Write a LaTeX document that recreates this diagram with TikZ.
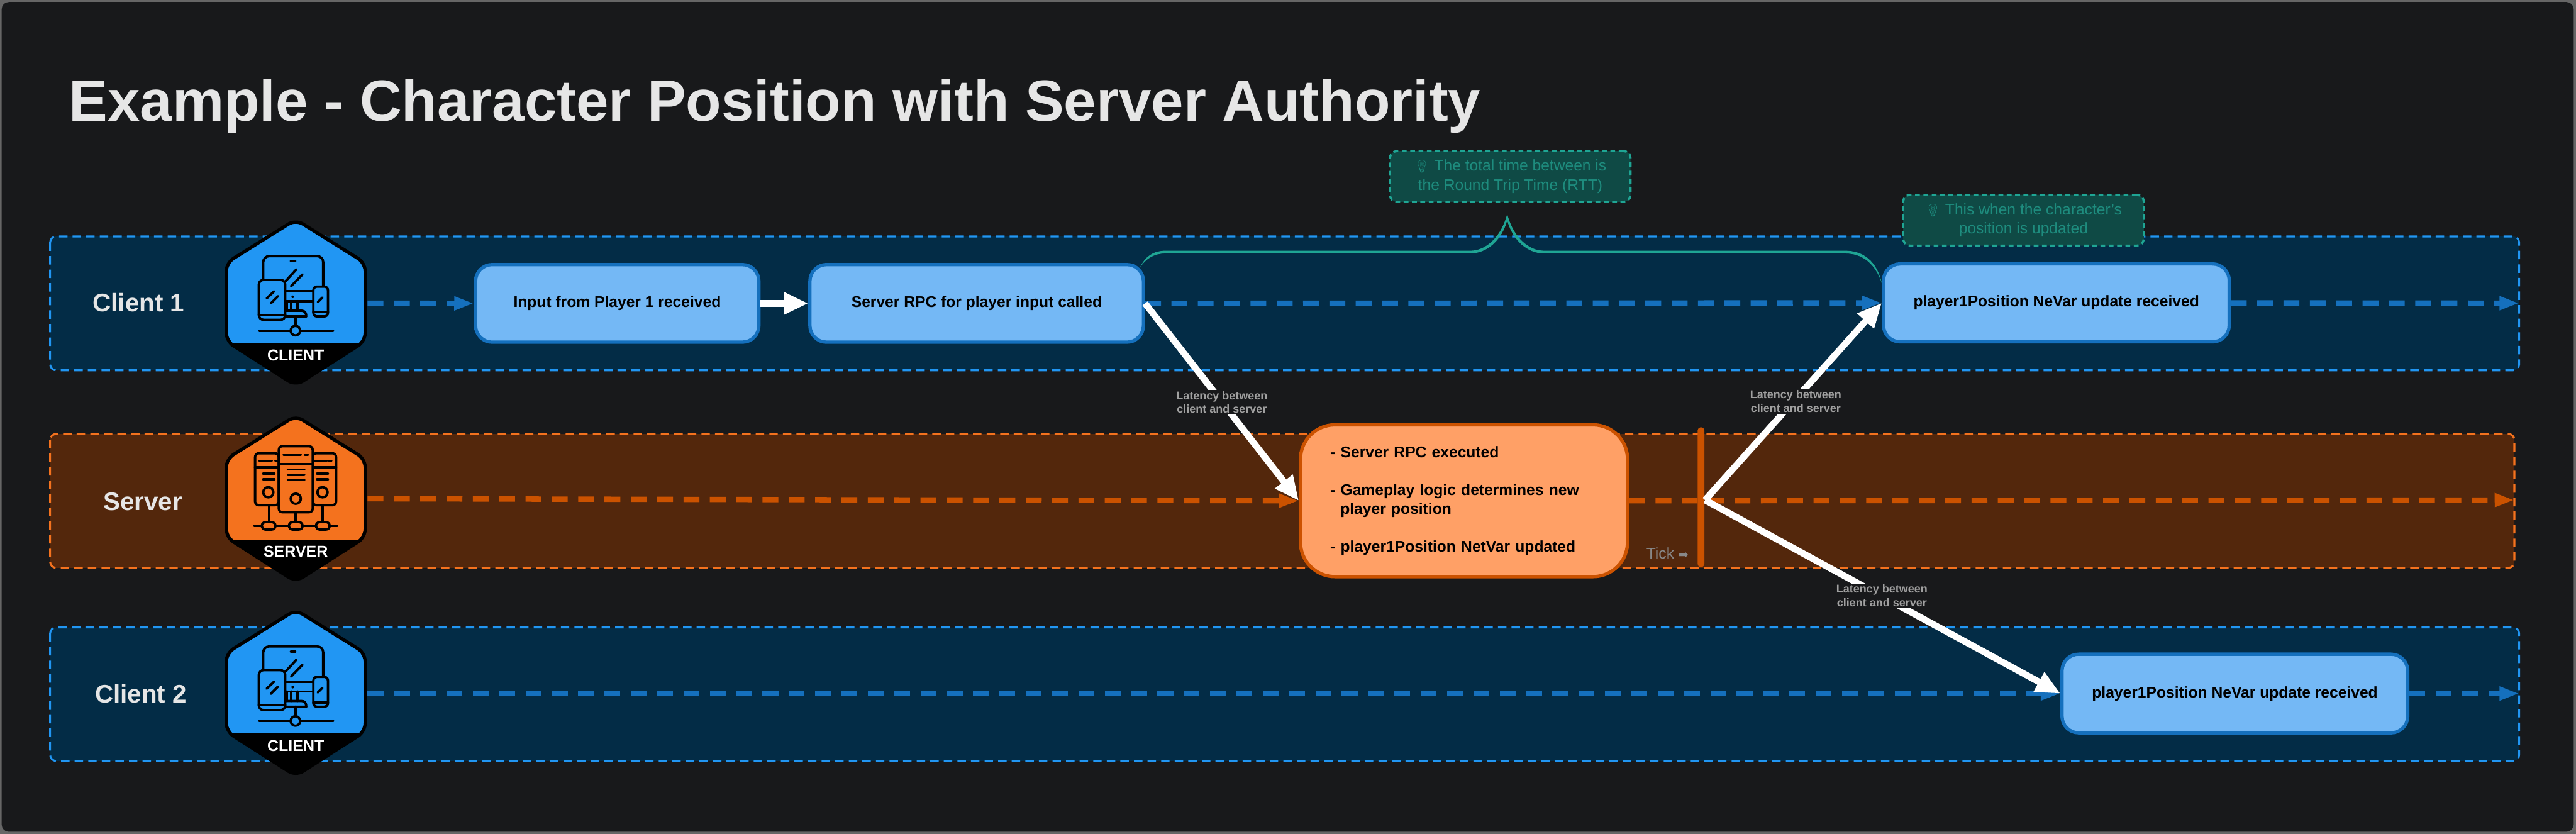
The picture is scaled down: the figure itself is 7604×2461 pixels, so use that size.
\documentclass[tikz,border=0pt]{standalone}
\usepackage{fontspec}
\setmainfont{Liberation Sans}
\newfontfamily\emojifont{Noto Emoji}
\newfontfamily\symfont{DejaVu Sans}
\usetikzlibrary{arrows.meta}
\definecolor{bgc}{HTML}{18191B}
\definecolor{edgec}{HTML}{666666}
\definecolor{cband}{HTML}{032C46}
\definecolor{cdash}{HTML}{2196F3}
\definecolor{cline}{HTML}{1570BD}
\definecolor{cbox}{HTML}{74B8F5}
\definecolor{sband}{HTML}{53270C}
\definecolor{sdash}{HTML}{F4721E}
\definecolor{sline}{HTML}{CB5200}
\definecolor{sbox}{HTML}{FFA066}
\definecolor{notefill}{HTML}{0F4A45}
\definecolor{noteedge}{HTML}{1FA594}
\definecolor{notetext}{HTML}{1E8C7E}
\definecolor{greytext}{HTML}{A0A0A0}
\definecolor{titlec}{HTML}{E6E6E6}
\tikzset{
  bandbox/.style={line width=1.6pt,rounded corners=5pt,dash pattern=on 7.1pt off 4.3pt},
  flow/.style={line width=4.5pt,dash pattern=on 13.3pt off 8.8pt,-{Triangle[length=.58cm,width=.38cm]}},
  msgbox/.style={draw=cline,fill=cbox,line width=2.8pt,rounded corners=14pt,inner sep=0pt,
    font=\fontsize{13}{15.9}\selectfont\bfseries,text=black},
  msg/.style={white,line width=5.5pt,-{Triangle[length=.72cm,width=.62cm]}},
  latency/.style={fill=bgc,text=greytext,align=center,inner xsep=6pt,inner ysep=1pt,
    font=\fontsize{9.5}{11.4}\selectfont\bfseries},
  note/.style={draw=noteedge,fill=notefill,text=notetext,line width=1.8pt,rounded corners=6pt,
    dash pattern=on 4pt off 3pt,align=center,inner sep=0pt,minimum width=7.1cm,minimum height=1.5cm,
    font=\fontsize{13}{15.9}\selectfont},
  lane/.style={text=titlec,font=\fontsize{21.3}{25}\selectfont\bfseries},
  badgetext/.style={text=white,font=\fontsize{13.2}{15}\selectfont\bfseries},
  ic/.style={line width=2pt,black,line cap=round,line join=round},
}
\newcommand{\hexpath}{(0,-4) -- (205,124) -- (205,355) -- (0,486) -- (-205,355) -- (-205,124) -- cycle}
\newcommand{\badge}[4]{% name, top y, colour, label
  \begin{scope}[shift={(873,#2)}]
    \fill[black,rounded corners=7pt] \hexpath;
    \begin{scope}
      \clip (-300,-50) rectangle (300,360);
      \fill[#3,rounded corners=7pt] \hexpath;
    \end{scope}
    \draw[black,line width=2.8pt,rounded corners=7pt] \hexpath;
    \node[badgetext] (#1) at (0,397) {#4};
  \end{scope}}
\newcommand{\clienticon}[2]{% top y, colour
  \begin{scope}[shift={(873,#1)}]
    \draw[ic,rounded corners=5pt] (-96,176) -- (-96,104) -- (81,104) -- (81,196);
    \draw[ic,line width=2.2pt] (-14,119) -- (-2,119);
    \draw[ic] (2,143) -- (-30,178);
    \draw[ic] (20,158) -- (-14,193);
    \draw[ic] (-31,208) -- (52,208);
    \draw[ic] (-31,237) -- (52,237);
    \fill[black] (-9,224) circle [radius=.04cm];
    \draw[ic] (-26,237) -- (-26,265);
    \draw[ic] (-14,237) -- (-14,265);
    \draw[ic] (5,237) -- (5,265);
    \draw[ic] (-31,265) -- (17,265) .. controls (27,265) and (31,272) .. (31,282) -- (-31,282);
    \draw[ic,fill=#2,rounded corners=4pt] (-109,174) rectangle (-31,292);
    \draw[ic] (-109,277) -- (-31,277);
    \draw[ic] (-64,208) -- (-86,229);
    \draw[ic] (-52,222) -- (-74,244);
    \draw[ic,fill=#2,rounded corners=3pt] (52,194) rectangle (95,282);
    \draw[ic] (52,269) -- (95,269);
    \draw[ic] (79,226) -- (65,240);
    \draw[ic] (-1,282) -- (-1,310);
    \draw[ic] (-107,324) -- (-15,324);
    \draw[ic] (13,324) -- (110,324);
    \draw[ic] (-1,324) circle [radius=.14cm];
  \end{scope}}
\newcommand{\sideserver}[2]{% x1 x2
  \draw[ic,rounded corners=3pt] (#1,107) rectangle (#2,260);
  \draw[ic] (#1,149) -- (#2,149);}
\newcommand{\servericon}[2]{%
  \begin{scope}[shift={(873,#1)}]
    \draw[ic] (-79,260) -- (-79,321);
    \draw[ic] (0,281) -- (0,321);
    \draw[ic] (79,260) -- (79,321);
    \draw[ic] (-122,321) -- (122,321);
    \foreach \cx in {-80,0,80}{\draw[ic,fill=#2,rounded corners=3pt] (\cx-20,310) rectangle (\cx+20,332);}
    \sideserver{-120}{-50}
    \sideserver{50}{119}
    \draw[ic] (-107,129) -- (-71,129);
    \draw[ic] (-60,129) -- (-52,129);
    \draw[ic] (53,129) -- (91,129);
    \draw[ic] (97,129) -- (105,129);
    \foreach \ly in {167,184}{\draw[ic] (-96,\ly) -- (-63,\ly); \draw[ic] (63,\ly) -- (95,\ly);}
    \draw[ic] (-81,222) circle [radius=.15cm];
    \draw[ic] (79,222) circle [radius=.15cm];
    \draw[ic,fill=#2,rounded corners=3pt] (-50,86) rectangle (50,281);
    \draw[ic] (-50,138) -- (50,138);
    \draw[ic] (-36,112) -- (15,112);
    \draw[ic] (27,112) -- (36,112);
    \foreach \ly in {155,170,186}{\draw[ic] (-23,\ly) -- (25,\ly);}
    \draw[ic] (0,241) circle [radius=.15cm];
  \end{scope}}
\begin{document}
\begin{tikzpicture}[x=.01cm,y=-.01cm]
\useasboundingbox (0,0) rectangle (7604,2461);
\fill[edgec] (0,0) rectangle (7604,2461);
\fill[bgc,rounded corners=6pt] (5,6) rectangle (7597,2455);

% title
\node[anchor=base west,inner sep=0pt,text=titlec,font=\fontsize{48.8}{58}\selectfont\bfseries] (title) at (203,357)
  {Example - Character Position with Server Authority};

% bands
\draw[bandbox,draw=cdash,fill=cband] (148,698) rectangle (7436,1093);
\draw[bandbox,draw=sdash,fill=sband] (148,1281) rectangle (7422,1676);
\draw[bandbox,draw=cdash,fill=cband] (148,1852) rectangle (7436,2246);

% lane labels
\node[lane] (lane1) at (409,894) {Client 1};
\node[lane] (lane2) at (422,1480) {Server};
\node[lane] (lane3) at (416,2047) {Client 2};

% message boxes
\node[msgbox,minimum width=8.36cm,minimum height=2.29cm] (input) at (1822,895.5) {Input from Player 1 received};
\node[msgbox,minimum width=9.84cm,minimum height=2.29cm] (rpc) at (2883,895.5) {Server RPC for player input called};
\node[msgbox,minimum width=10.2cm,minimum height=2.3cm] (playerA) at (6070,894) {player1Position NeVar update received};
\node[msgbox,minimum width=10.2cm,minimum height=2.32cm] (playerB) at (6597,2047) {player1Position NeVar update received};
\node[msgbox,draw=sline,fill=sbox,rounded corners=29pt,minimum width=9.65cm,minimum height=4.48cm,
      text width=7.89cm,align=left,inner xsep=.88cm] (srv) at (4321.5,1478)
  {- Server RPC executed\\[15.9pt]
   - Gameplay logic determines new\\
   \hspace*{8.5pt}player position\\[15.9pt]
   - player1Position NetVar updated};

% anchors for the free ends
\coordinate (c1start) at (1085,895);
\coordinate (c1end) at (7436,895);
\coordinate (s1start) at (1085,1472);
\coordinate (s1end) at (7422,1476);
\coordinate (c2start) at (1085,2047);
\coordinate (c2end) at (7436,2047);
\coordinate (tickout) at (5033,1476);

% dashed timelines
\draw[flow,draw=cline] (c1start) -- (input.west);
\draw[flow,draw=cline] (rpc.east) -- (playerA.west);
\draw[flow,draw=cline] (playerA.east) -- (c1end);
\draw[flow,draw=sline] (s1start) -- (srv.west);
\draw[flow,draw=sline] (srv.east) -- (s1end);
\draw[flow,draw=cline] (c2start) -- (playerB.west);
\draw[flow,draw=cline] (playerB.east) -- (c2end);

% tick over the timeline
\node[fill=sline,rounded corners=2.8pt,inner sep=0pt,minimum width=.2cm,minimum height=4.13cm] (tick) at (5021,1467.5) {};
\node[text=greytext!85!black,inner sep=0pt,font=\fontsize{13}{15}\selectfont] (ticklabel) at (4922,1633) {Tick {\symfont\fontsize{10}{12}\selectfont ➡}};

% white messages
\draw[msg] (input.east) -- (rpc.west);
\draw[msg] (rpc.east) -- (srv.west);
\draw[msg] (tickout) -- (playerA.west);
\draw[msg] (tickout) -- (playerB.west);

% latency labels
\node[latency] (lat1) at (3607,1187) {Latency between\\client and server};
\node[latency] (lat2) at (5301,1185) {Latency between\\client and server};
\node[latency] (lat3) at (5555,1758) {Latency between\\client and server};

% brace
\fill[noteedge] (3365,790) .. controls (3380,757) and (3405,740) .. (3441,740) -- (4341,740)
  .. controls (4384,740) and (4430,703) .. (4449,632)
  .. controls (4468,703) and (4514,740) .. (4557,740) -- (5446,740)
  .. controls (5500,740) and (5540,770) .. (5555,837)
  .. controls (5535,775) and (5495,748) .. (5446,748) -- (4557,748)
  .. controls (4510,748) and (4465,710) .. (4449,650)
  .. controls (4433,710) and (4388,748) .. (4341,748) -- (3441,748)
  .. controls (3408,748) and (3383,762) .. (3365,790) -- cycle;

% notes
\node[note] (note1) at (4458,521) {{\emojifont\fontsize{10.5}{12}\selectfont 💡} The total time between is\\the Round Trip Time (RTT)};
\node[note] (note2) at (5973,650) {{\emojifont\fontsize{10.5}{12}\selectfont 💡} This when the character's\\position is updated};

% badges
\badge{badge1}{652}{cdash}{CLIENT}
\clienticon{652}{cdash}
\badge{badge2}{1231}{sdash}{SERVER}
\servericon{1231}{sdash}
\badge{badge3}{1804}{cdash}{CLIENT}
\clienticon{1804}{cdash}
\end{tikzpicture}
\end{document}
